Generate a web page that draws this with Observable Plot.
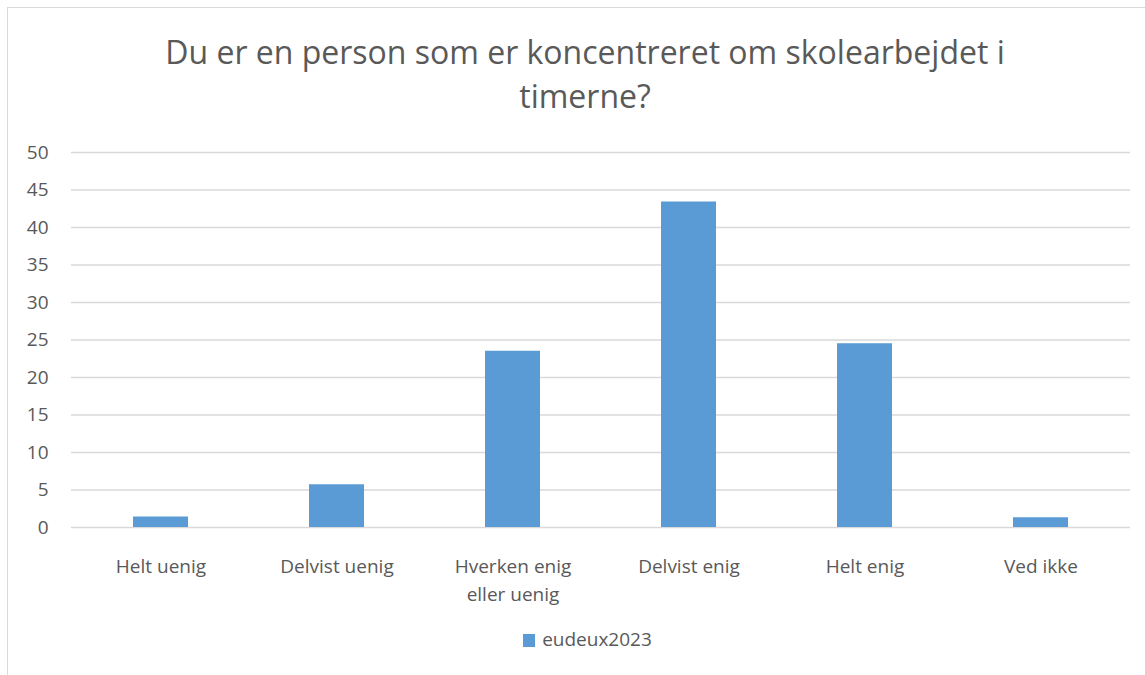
<!DOCTYPE html>
<html>
<head>
<meta charset="utf-8">
<script src="https://cdn.jsdelivr.net/npm/d3@7"></script>
<script src="https://cdn.jsdelivr.net/npm/@observablehq/plot@0.6"></script>
<style>
  html, body { margin: 0; padding: 0; background: #fff; overflow: hidden; }
  body { width: 1145px; height: 675px; position: relative; font-family: "Open Sans", sans-serif; color: #595959; }
  #frame { position: absolute; left: 7px; top: 7px; width: 1300px; height: 800px; border: 1px solid #d9d9d9; box-sizing: border-box; }
  #title { position: absolute; left: 0; top: 30px; width: 1170px; text-align: center; font-size: 32px; line-height: 44px; color: #595959; }
  #chart { position: absolute; left: 0; top: 130px; }
  #chart svg { overflow: visible; }
  #legend { position: absolute; left: 0; top: 630px; width: 1175px; text-align: center; font-size: 19px; line-height: 19px; color: #595959; }
  #legend .sw { display: inline-block; width: 12px; height: 13px; background: #5b9bd5; margin-right: 7px; vertical-align: -1px; }
</style>
</head>
<body>
<div id="frame"></div>
<div id="title">Du er en person som er koncentreret om skolearbejdet i<br>timerne?</div>
<div id="chart"></div>
<div id="legend"><span class="sw"></span>eudeux2023</div>
<script>
const categories = ["Helt uenig", "Delvist uenig", "Hverken enig\neller uenig", "Delvist enig", "Helt enig", "Ved ikke"];
const values = [1.4, 5.7, 23.5, 43.4, 24.5, 1.3];
const yTicks = [0, 5, 10, 15, 20, 25, 30, 35, 40, 45, 50];
const seriesName = "eudeux2023";
const barColor = "#5b9bd5";

const data = categories.map((c, i) => ({category: c, value: values[i]}));

const chart = Plot.plot({
  width: 1145,
  height: 495,
  marginLeft: 71,
  marginRight: 15,
  marginTop: 22,
  marginBottom: 98,
  style: {fontFamily: "Open Sans, sans-serif", color: "#595959", background: "transparent", overflow: "visible"},
  x: {domain: categories, paddingInner: 0.69, paddingOuter: 0.345, label: null},
  y: {domain: [0, 50], label: null},
  marks: [
    Plot.ruleY(yTicks, {stroke: "#d9d9d9", strokeWidth: 1.3}),
    Plot.barY(data, {x: "category", y: "value", fill: barColor}),
    Plot.axisY(yTicks, {tickSize: 0, tickPadding: 23, fontSize: 19, label: null}),
    Plot.axisX({tickSize: 0, tickPadding: 26, fontSize: 19, lineHeight: 1.47, label: null})
  ]
});
document.getElementById("chart").appendChild(chart);
</script>
</body>
</html>
